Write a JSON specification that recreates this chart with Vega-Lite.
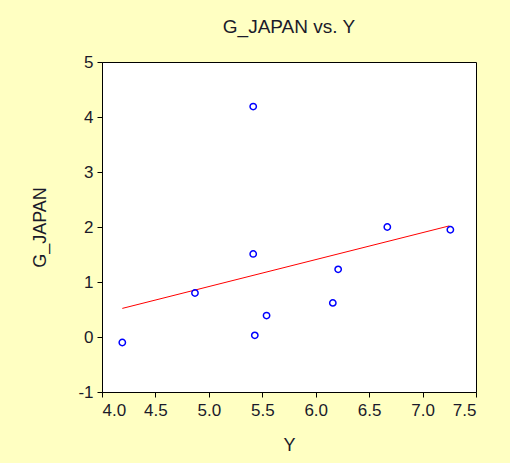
{
  "$schema": "https://vega.github.io/schema/vega-lite/v6.json",
  "autosize": {"type": "none"},
  "width": 374,
  "height": 330,
  "padding": {"left": 102, "top": 62, "right": 34, "bottom": 71},
  "background": "#FFFFC2",
  "title": {
    "text": "G_JAPAN vs. Y",
    "font": "Liberation Sans",
    "fontSize": 19,
    "fontWeight": "normal",
    "color": "#1a1a2a",
    "offset": 16,
    "anchor": "middle"
  },
  "config": {
    "view": {"stroke": "#000000", "strokeWidth": 1, "fill": "#FFFFFF"},
    "axis": {
      "grid": false,
      "domainColor": "#000000",
      "tickColor": "#000000",
      "tickSize": 5,
      "labelFont": "Liberation Sans",
      "labelFontSize": 17,
      "labelColor": "#1a1a2a",
      "titleFont": "Liberation Sans",
      "titleFontSize": 18,
      "titleFontWeight": "normal",
      "titleColor": "#1a1a2a"
    }
  },
  "datasets": {
    "pts": [
      {"Y": 4.19, "G_JAPAN": -0.10},
      {"Y": 4.87, "G_JAPAN": 0.80},
      {"Y": 5.415, "G_JAPAN": 4.19},
      {"Y": 5.415, "G_JAPAN": 1.51},
      {"Y": 5.43, "G_JAPAN": 0.03},
      {"Y": 5.54, "G_JAPAN": 0.39},
      {"Y": 6.16, "G_JAPAN": 0.62},
      {"Y": 6.21, "G_JAPAN": 1.23},
      {"Y": 6.67, "G_JAPAN": 2.00},
      {"Y": 7.26, "G_JAPAN": 1.95}
    ],
    "fit": [
      {"Y": 4.19, "G_JAPAN": 0.52},
      {"Y": 7.25, "G_JAPAN": 2.02}
    ]
  },
  "layer": [
    {
      "data": {"name": "fit"},
      "mark": {"type": "line", "color": "#FF0000", "strokeWidth": 1},
      "encoding": {
        "x": {
          "field": "Y", "type": "quantitative",
          "scale": {"domain": [4.0, 7.5], "nice": false, "zero": false},
          "axis": {"values": [4.0, 4.5, 5.0, 5.5, 6.0, 6.5, 7.0, 7.5], "format": ".1f", "title": "Y", "labelPadding": 5, "titleX": 187, "titleY": 53, "titleBaseline": "middle", "titleAlign": "center"}
        },
        "y": {
          "field": "G_JAPAN", "type": "quantitative",
          "scale": {"domain": [-1, 5], "nice": false, "zero": false},
          "axis": {"values": [-1, 0, 1, 2, 3, 4, 5], "labelExpr": "datum.value < 0 ? '-' + abs(datum.value) : '' + datum.value", "title": "G_JAPAN", "labelPadding": 4, "titleX": -62, "titleY": 165, "titleAngle": -90, "titleBaseline": "middle", "titleAlign": "center"}
        }
      }
    },
    {
      "data": {"name": "pts"},
      "mark": {"type": "point", "shape": "circle", "filled": false, "color": "#0000FF", "strokeWidth": 1.5, "size": 40, "opacity": 1},
      "encoding": {
        "x": {"field": "Y", "type": "quantitative"},
        "y": {"field": "G_JAPAN", "type": "quantitative"}
      }
    }
  ]
}
